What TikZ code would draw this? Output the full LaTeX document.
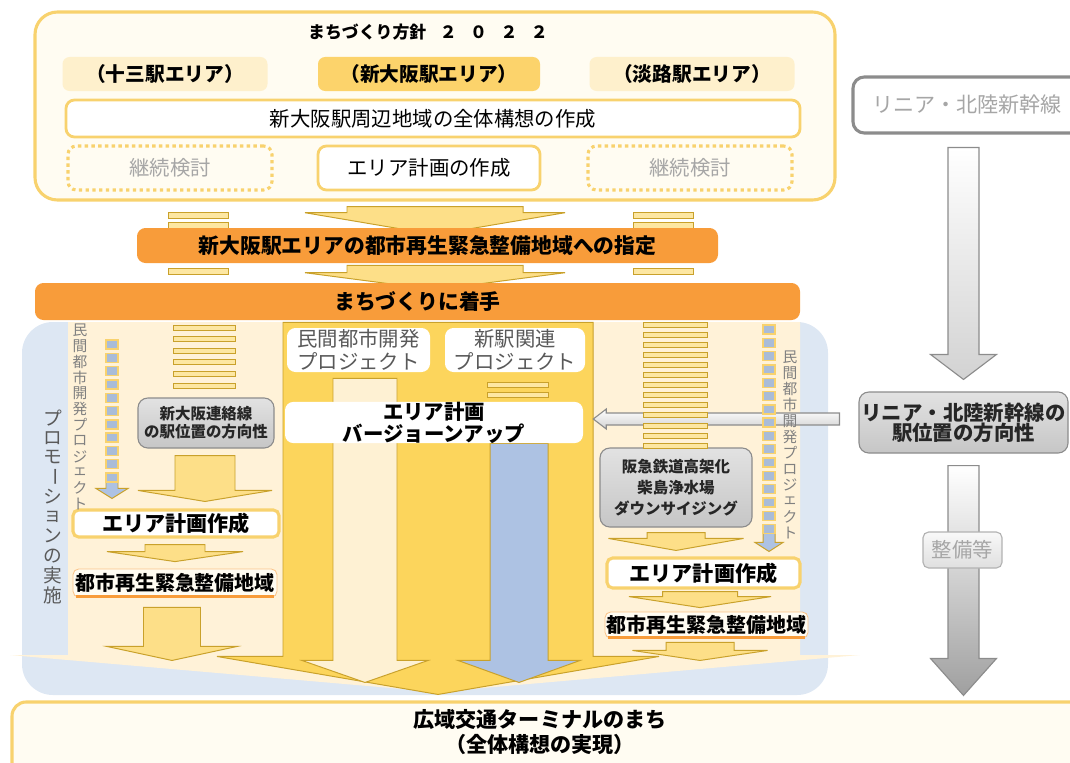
\documentclass[tikz,border=0pt]{standalone}
\usepackage{fontspec}
\setmainfont{Noto Sans CJK JP}
\usetikzlibrary{calc}
\pgfdeclarelayer{back}
\pgfdeclarelayer{arrows}
\pgfsetlayers{back,arrows,main}
\newdimen\pxu
\pxu=0.025cm
\newcommand\vbar{\rotatebox[origin=c]{-90}{ー}}
\newcommand\blockarrow[6]{%
  \draw[#1] let \p1=#2, \p2=#3 in
    ({\x1-#4*\pxu},\y1) -- ({\x1-#4*\pxu},{\y2+#6*\pxu}) -- ({\x1-#5*\pxu},{\y2+#6*\pxu})
    -- (\x1,\y2) -- ({\x1+#5*\pxu},{\y2+#6*\pxu}) -- ({\x1+#4*\pxu},{\y2+#6*\pxu})
    -- ({\x1+#4*\pxu},\y1) -- cycle;}

\begin{document}
\begin{tikzpicture}[x=0.025cm,y=-0.025cm,
  sz/.style 2 args={minimum width=#1*\pxu,minimum height=#2*\pxu,inner sep=0pt},
  outerbox/.style={draw=lineyel,line width=2.2pt,fill=planfill,rounded corners=16pt},
  areabox/.style={rounded corners=5pt,font=\bfseries\fontsize{14}{15}\selectfont},
  wbox/.style={draw=lineyel,line width=2pt,fill=white,rounded corners=6pt,font=\fontsize{14.5}{16}\selectfont},
  dotbox/.style={draw=lineyel,line width=2.2pt,dash pattern=on 2.4pt off 2.4pt,fill=planfill,rounded corners=6pt,text=textgray,font=\fontsize{14.5}{16}\selectfont},
  orbar/.style={fill=orng,rounded corners=6pt,font=\bfseries\fontsize{14.8}{16}\selectfont},
  mbox/.style={fill=white,rounded corners=6pt,align=center,text=darkgray,font=\fontsize{14.5}{16.5}\selectfont},
  gbox/.style={draw=grayline,line width=0.8pt,top color=grayhi,bottom color=graylo,rounded corners=7pt,align=center,text=black!85,font=\bfseries\fontsize{11}{13}\selectfont},
  pbox/.style={draw=lineyel,line width=2.2pt,fill=white,rounded corners=4pt,font=\bfseries\fontsize{15}{16}\selectfont},
  zbox/.style={fill=planfill,draw=orng!60,line width=0.6pt,rounded corners=4pt,font=\bfseries\fontsize{14.2}{16}\selectfont},
  yarrow/.style={fill=ylarrow,draw=gold,line width=0.7pt},
  bigarrow/.style={fill=bigyel,draw=gold,line width=0.7pt},
  creamarrow/.style={fill=creamarr,draw=gold,line width=0.7pt},
  bluearrow/.style={fill=bluearr,draw=gold,line width=0.7pt},
  grayarrow/.style={draw=grayline,line width=0.8pt,top color=white,bottom color=gray!35},
  rung/.style={draw=gold,line width=0.6pt,fill=rungfill},
  sq/.style={draw=lineyel,line width=1pt,fill=sqfill},
  vch/.style={inner sep=0pt,font=\fontsize{13.3}{13.3}\selectfont,text=darkgray},
  vsm/.style={inner sep=0pt,font=\fontsize{10.5}{11}\selectfont,text=gray}]
\definecolor{lineyel}{HTML}{F8D26E}
\definecolor{planfill}{HTML}{FFFCF2}
\definecolor{arealt}{HTML}{FEF0CC}
\definecolor{areamid}{HTML}{FCD36B}
\definecolor{orng}{HTML}{F89C3A}
\definecolor{gold}{HTML}{C9A12B}
\definecolor{ylarrow}{HTML}{FDDF88}
\definecolor{bigyel}{HTML}{FCD55C}
\definecolor{creamarr}{HTML}{FEF1D3}
\definecolor{bluearr}{HTML}{ADC2E3}
\definecolor{bluebg}{HTML}{DDE7F3}
\definecolor{creambg}{HTML}{FFF2D8}
\definecolor{rungfill}{HTML}{FDE7A2}
\definecolor{sqfill}{HTML}{A9BCD8}
\definecolor{grayline}{HTML}{8C8C8C}
\definecolor{grayhi}{HTML}{E2E2E2}
\definecolor{graylo}{HTML}{C6C6C6}
\definecolor{textgray}{HTML}{A6A6A6}
\definecolor{darkgray}{HTML}{595959}
\useasboundingbox (0,0) rectangle (1070,762);

\begin{pgfonlayer}{back}
\fill[bluebg,rounded corners=22pt] (22,322) rectangle (828,695);
\fill[creambg] (68,322) -- (800,322) -- (800,655) -- (860,655) -- (437,692) -- (10,655) -- (68,655) -- cycle;
\end{pgfonlayer}

\node[outerbox,sz={800}{188}] (plan) at (435,106) {};
\node[font=\bfseries\fontsize{12}{13}\selectfont] (ttl) at (428,32) {まちづくり方針\hspace{0.8em}２\hspace{0.8em}０\hspace{0.8em}２\hspace{0.8em}２};
\node[areabox,fill=arealt,sz={205}{34}] (juso) at (165,74) {（十三駅エリア）};
\node[areabox,fill=areamid,sz={222}{34}] (shin) at (429,74) {（新大阪駅エリア）};
\node[areabox,fill=arealt,sz={205}{34}] (awaji) at (692,74) {（淡路駅エリア）};
\node[wbox,sz={734}{37}] (concept) at (433,118.5) {新大阪駅周辺地域の全体構想の作成};
\node[dotbox,sz={204}{44}] (cont1) at (170,168) {継続検討};
\node[wbox,sz={222}{44}] (areaplan) at (429,168) {エリア計画の作成};
\node[dotbox,sz={204}{44}] (cont2) at (690,168) {継続検討};

\foreach \y in {212,222,268} {
  \draw[rung] (168,\y) rectangle (228,\y+6);
  \draw[rung] (633,\y) rectangle (693,\y+6);}
\node[orbar,sz={581}{35}] (desig) at (427.5,245.5) {新大阪駅エリアの都市再生緊急整備地域への指定};
\node[orbar,sz={765}{37}] (start) at (417.5,301.5) {まちづくりに着手};

\node[mbox,sz={143}{44}] (pdev) at (358.5,350) {民間都市開発\\プロジェクト};
\node[mbox,sz={140}{44}] (stn) at (515,350) {新駅関連\\プロジェクト};
\node[mbox,sz={298}{39},text=black,font=\bfseries\fontsize{14.5}{15.5}\selectfont] (vup) at (434,422.5) {エリア計画\\バージョーンアップ};

\node[gbox,sz={136}{50}] (lgs) at (206,423) {新大阪連絡線\\の駅位置の方向性};
\node[pbox,sz={206}{27}] (lpl) at (176,523.5) {エリア計画作成};
\node[zbox,sz={204}{28}] (lzn) at (175,583) {都市再生緊急整備地域};
\draw[orng,line width=2.5pt] ($(lzn.south west)+(3,-1)$) -- ($(lzn.south east)+(-3,-1)$);

\node[gbox,sz={152}{79},font=\bfseries\fontsize{11}{15}\selectfont] (rgs) at (676,487.5) {阪急鉄道高架化\\柴島浄水場\\ダウンサイジング};
\node[pbox,sz={193}{30}] (rpl) at (703.5,573) {エリア計画作成};
\node[zbox,sz={203}{26}] (rzn) at (706.5,625) {都市再生緊急整備地域};
\draw[orng,line width=2.5pt] ($(rzn.south west)+(3,-1)$) -- ($(rzn.south east)+(-3,-1)$);

\node[draw=grayline,line width=2.2pt,fill=white,rounded corners=8pt,sz={228}{56},text=textgray,font=\fontsize{15}{16}\selectfont] (linear) at (967,105) {リニア・北陸新幹線};
\node[gbox,sz={209}{61},font=\bfseries\fontsize{14.5}{14}\selectfont] (lgb) at (963.5,422.5) {リニア・北陸新幹線の\\駅位置の方向性};
\node[draw=gray!60,line width=0.8pt,top color=gray!5,bottom color=gray!25,rounded corners=4pt,sz={79}{36},text=textgray,font=\fontsize{14.5}{16}\selectfont] (seibi) at (962.5,550) {整備等};

\node[draw=lineyel,line width=2.2pt,fill=planfill,rounded corners=10pt,sz={1073}{75}] (goal) at (548.5,739.5) {};
\node[align=center,font=\bfseries\fontsize{15}{17.8}\selectfont] (goaltxt) at (540,732) {広域交通ターミナルのまち\\（全体構想の実現）};

\coordinate (lsq) at (112,476);
\coordinate (rsq) at (769,533);
\foreach \i in {0,...,5} \draw[rung] (173,325+11.6*\i) rectangle +(62,5);
\foreach \i in {0,...,12} \draw[rung] (643,322+10.1*\i) rectangle +(64,5);
\foreach \y in {382,392} \draw[rung] (487,\y) rectangle +(61,5);
\foreach \i in {0,...,10} \draw[sq] (106,340+13.3*\i) rectangle +(12,9);
\foreach \i in {0,...,15} \draw[sq] (763,325+13.3*\i) rectangle +(12,9);

\foreach \c [count=\i] in {プ,ロ,モ,\vbar,シ,ョ,ン,の,実,施}
  \node[vch] (promo\i) at (53,398.3+19.7*\i) {\c};
\foreach \c [count=\i] in {民,間,都,市,開,発,プ,ロ,ジ,ェ,ク,ト} {
  \node[vsm] (lprj\i) at (80,314.2+15.8*\i) {\c};
  \node[vsm] (rprj\i) at (790,341+16*\i) {\c};}

\begin{pgfonlayer}{arrows}
\blockarrow{yarrow}{($(plan.south)+(0,5)$)}{($(desig.north)+(0,7)$)}{88}{130}{22}
\blockarrow{yarrow}{($(desig.south)+(7.5,2)$)}{($(start.north)+(0,7)$)}{88}{130}{17}
\blockarrow{bigarrow}{($(start.south)+(20.5,2)$)}{($(goal.north)+(0,-6)$)}{155}{221}{38}
\blockarrow{creamarrow}{($(pdev.south)+(6.5,6)$)}{($(goal.north)+(0,-18)$)}{32}{63}{22}
\blockarrow{bluearrow}{($(vup.south)+(85,0)$)}{($(goal.north)+(0,-18)$)}{29}{61}{22}
\blockarrow{yarrow}{($(lgs.south)+(-1,7)$)}{($(lpl.north)+(0,-7)$)}{30}{67}{11}
\blockarrow{yarrow}{($(lpl.south)+(-1,6)$)}{($(lzn.north)+(0,-7)$)}{30}{68}{10}
\blockarrow{yarrow}{($(lzn.south)+(-3,10)$)}{($(goal.north)+(0,-40)$)}{28.5}{65}{14}
\blockarrow{bluearrow}{(lsq)}{($(lpl.north)+(0,-10)$)}{6}{16}{10}
\blockarrow{yarrow}{($(rgs.south)+(0,5)$)}{($(rpl.north)+(0,-6)$)}{29}{67.5}{12}
\blockarrow{yarrow}{($(rpl.south)+(-3.5,2)$)}{($(rzn.north)+(0,-4)$)}{37.5}{71}{11}
\blockarrow{yarrow}{($(rzn.south)+(-6.5,4)$)}{($(goal.north)+(0,-40)$)}{34}{67.5}{10}
\blockarrow{bluearrow}{(rsq)}{($(rpl.north)+(0,-5)$)}{6}{14}{9}
\blockarrow{grayarrow}{($(linear.south)+(-3.5,13)$)}{($(lgb.north)+(0,-12)$)}{15.5}{33}{25}
\blockarrow{grayarrow,bottom color=gray!75}{($(lgb.south)+(0,12)$)}{($(goal.north)+(0,-5)$)}{15.5}{33}{37}
\draw[grayarrow] let \p1=($(lgb.west)+(-19,-3.5)$), \p2=($(vup.east)+(10,0)$) in
  (\x1,{\y1+6*\pxu}) -- ({\x2+13*\pxu},{\y1+6*\pxu}) -- ({\x2+13*\pxu},{\y1+10*\pxu}) -- (\x2,\y1)
  -- ({\x2+13*\pxu},{\y1-10*\pxu}) -- ({\x2+13*\pxu},{\y1-6*\pxu}) -- (\x1,{\y1-6*\pxu}) -- cycle;
\end{pgfonlayer}
\end{tikzpicture}
\end{document}
